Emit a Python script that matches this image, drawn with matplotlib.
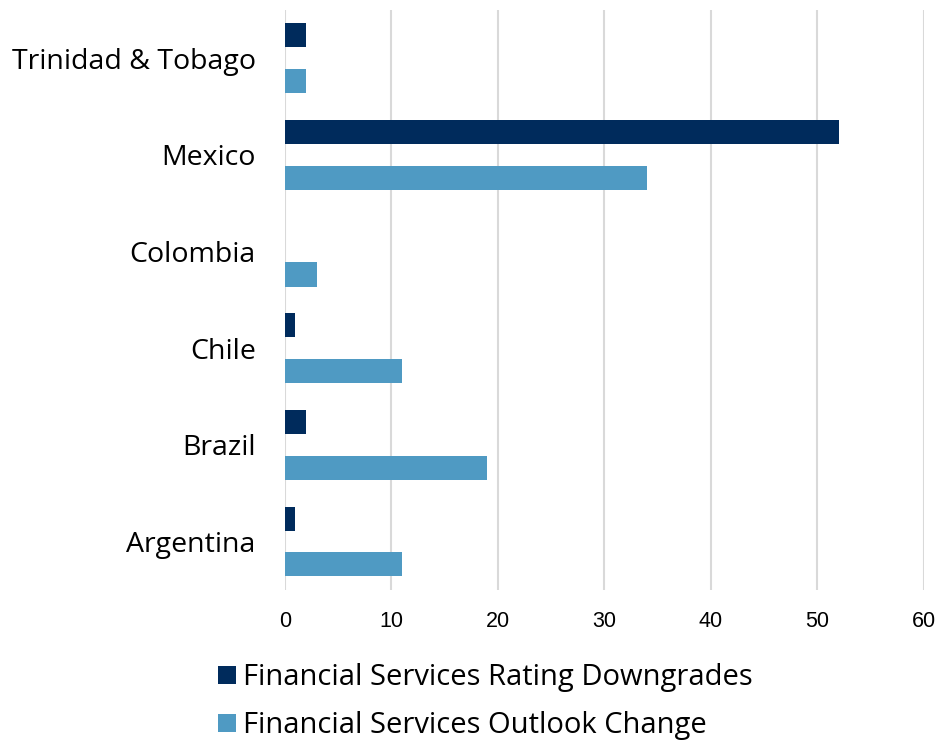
import matplotlib.pyplot as plt
import numpy as np

countries = ["Argentina", "Brazil", "Chile", "Colombia", "Mexico", "Trinidad & Tobago"]
downgrades = [1, 2, 1, 0, 52, 2]
outlook = [11, 19, 11, 3, 34, 2]
xticks = [0, 10, 20, 30, 40, 50, 60]

dark = "#002B5C"
light = "#4F9AC3"

fig = plt.figure(figsize=(9.4, 7.41), dpi=100)
ax = fig.add_axes((0.303, 0.204, 0.68, 0.7825))

y = np.arange(len(countries))
ax.barh(y + 0.237, downgrades, 0.25, color=dark, label="Financial Services Rating Downgrades", zorder=3)
ax.barh(y - 0.237, outlook, 0.25, color=light, label="Financial Services Outlook Change", zorder=3)

for s in ax.spines.values():
    s.set_visible(False)

ax.set_xlim(0, 60)
ax.set_ylim(-0.5, 5.5)
ax.set_xticks(xticks)
ax.set_xticklabels([str(t) for t in xticks], family="Liberation Sans", fontsize=15.5)
ax.tick_params(axis="x", length=0, pad=15)
ax.xaxis.grid(True, color="#D9D9D9", linewidth=1.5, zorder=0)
ax.set_yticks(y)
ax.set_yticklabels(countries, family="Open Sans", fontsize=20.5)
ax.tick_params(axis="y", length=0, pad=21)

leg = fig.legend(loc="lower left", bbox_to_anchor=(0.22, -0.015), ncol=1, frameon=False,
                 prop={"family": "Open Sans", "size": 21}, handlelength=0.6, handleheight=0.6,
                 handletextpad=0.25, labelspacing=0.65, borderaxespad=0)

fig.savefig("out.png", dpi=100)
